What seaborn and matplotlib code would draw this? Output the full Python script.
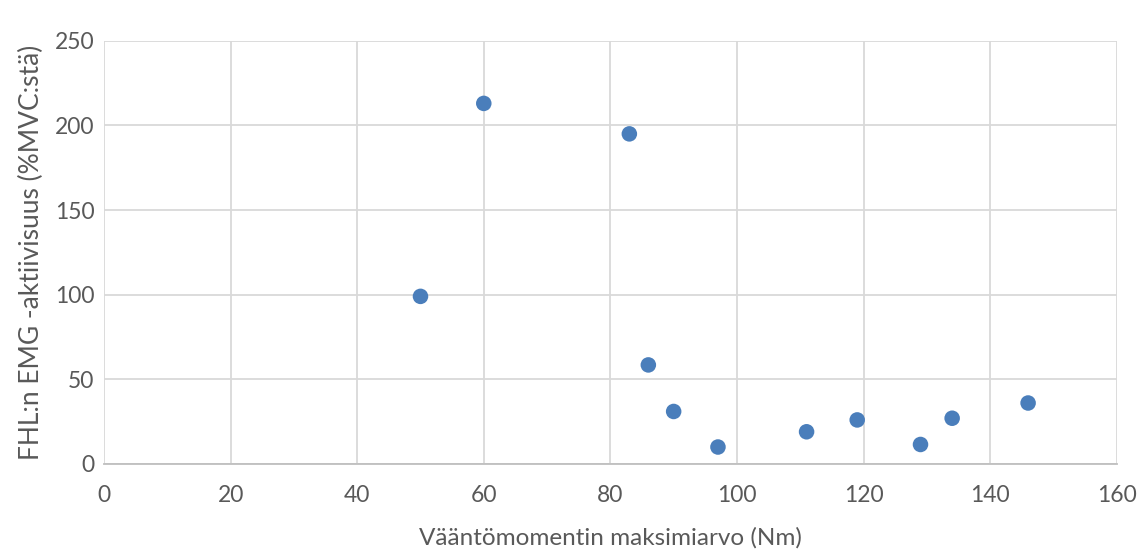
import pandas as pd
import matplotlib
matplotlib.use("Agg")
import matplotlib.pyplot as plt
import seaborn as sns

# peak torque (Nm) vs FHL EMG activity (% of MVC)
torque = [50, 60, 83, 86, 90, 97, 111, 119, 129, 134, 146]
emg = [99, 213, 195, 58.5, 31, 10, 19, 26, 11.5, 27, 36]

df = pd.DataFrame({"torque": torque, "emg": emg})

sns.set_style("white")
plt.rcParams['font.family'] = ['Lato', 'DejaVu Sans']

text_col = "#595959"
grid_col = "#d9d9d9"

fig = plt.figure(figsize=(11.43, 5.51), dpi=100)
ax = fig.add_axes([0.091, 0.158, 0.886, 0.768])

sns.scatterplot(data=df, x="torque", y="emg", ax=ax, color="#4a7ebb",
                s=125, edgecolor="none", zorder=3, clip_on=False)

ax.set_xlim(0, 160)
ax.set_ylim(0, 250)
ax.set_xticks(range(0, 161, 20))
ax.set_yticks(range(0, 251, 50))
ax.grid(True, color=grid_col, linewidth=1.3)
ax.set_axisbelow(True)

for side in ["top", "right", "left"]:
    ax.spines[side].set_visible(False)
ax.spines["bottom"].set_color("#bfbfbf")
ax.spines["bottom"].set_linewidth(1.3)

ax.tick_params(axis="both", length=0, labelsize=16.5, colors=text_col)
ax.tick_params(axis="x", pad=15)
ax.tick_params(axis="y", pad=7)

ax.set_xlabel("Vääntömomentin maksimiarvo (Nm)", fontsize=17.5, color=text_col, labelpad=15)
ax.set_ylabel("FHL:n EMG -aktiivisuus (%MVC:stä)", fontsize=19, color=text_col, labelpad=8)

plt.savefig("out.png", dpi=100)
